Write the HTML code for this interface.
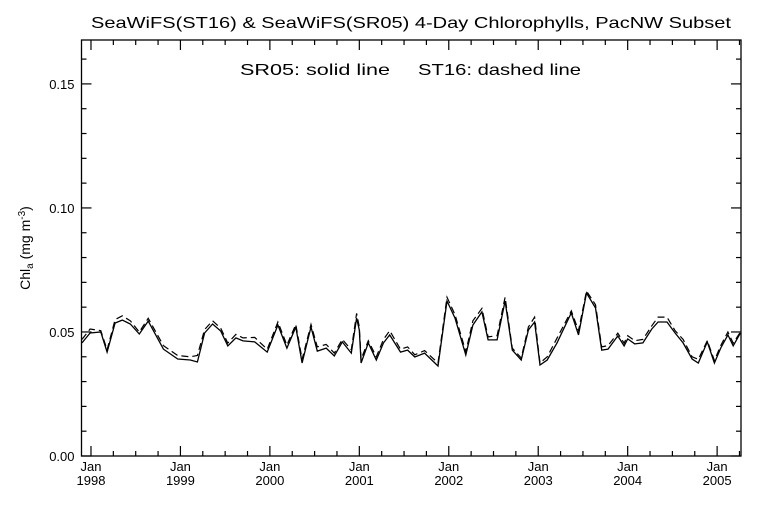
<!DOCTYPE html>
<html><head><meta charset="utf-8"><style>
html,body{margin:0;padding:0;background:#fff;width:768px;height:512px;overflow:hidden}
svg{display:block}
text{font-family:"Liberation Sans","DejaVu Sans",sans-serif;fill:#000}
</style></head><body>
<svg id="chart" width="768" height="512" viewBox="0 0 768 512" xmlns="http://www.w3.org/2000/svg">
<rect width="768" height="512" fill="#fff"/>
<text x="411" y="28" font-size="16" text-anchor="middle" textLength="640" lengthAdjust="spacingAndGlyphs">SeaWiFS(ST16) &amp; SeaWiFS(SR05) 4-Day Chlorophylls, PacNW Subset</text>
<text x="240" y="75" font-size="16" textLength="150" lengthAdjust="spacingAndGlyphs">SR05: solid line</text>
<text x="418" y="75" font-size="16" textLength="163" lengthAdjust="spacingAndGlyphs">ST16: dashed line</text>
<text transform="translate(30,248) rotate(-90)" font-size="14" text-anchor="middle">Chl<tspan font-size="10" dy="3">a</tspan><tspan dy="-3"> (mg m</tspan><tspan font-size="10" dy="-5">-3</tspan><tspan dy="5">)</tspan></text>
<g id="axes"></g>
<g id="series"></g>
</svg>
<script>
const dates=[1997.90,1997.99,1998.11,1998.18,1998.27,1998.35,1998.44,1998.54,1998.64,1998.81,1998.97,1999.11,1999.19,1999.27,1999.36,1999.45,1999.53,1999.62,1999.70,1999.83,1999.97,2000.09,2000.19,2000.29,2000.36,2000.46,2000.53,2000.63,2000.72,2000.81,2000.91,2000.97,2001.00,2001.02,2001.10,2001.19,2001.27,2001.34,2001.46,2001.54,2001.62,2001.73,2001.88,2001.98,2002.07,2002.19,2002.27,2002.37,2002.44,2002.54,2002.63,2002.71,2002.81,2002.89,2002.96,2003.02,2003.10,2003.21,2003.37,2003.45,2003.54,2003.64,2003.71,2003.78,2003.89,2003.96,2004.00,2004.08,2004.17,2004.27,2004.34,2004.44,2004.53,2004.62,2004.72,2004.79,2004.89,2004.97,2005.04,2005.12,2005.18,2005.26];
const sr05=[.0456,.0496,.0500,.0419,.0536,.0548,.0532,.0492,.0544,.0431,.0391,.0387,.0379,.0496,.0532,.0504,.0444,.0476,.0464,.0460,.0419,.0528,.0435,.0520,.0375,.0520,.0423,.0435,.0403,.0460,.0415,.0556,.0508,.0375,.0456,.0387,.0456,.0488,.0419,.0427,.0399,.0415,.0363,.0625,.0556,.0407,.0528,.0581,.0468,.0468,.0625,.0427,.0387,.0508,.0540,.0367,.0387,.0456,.0577,.0488,.0657,.0597,.0427,.0431,.0484,.0444,.0472,.0452,.0456,.0512,.0540,.0540,.0496,.0456,.0391,.0375,.0460,.0375,.0435,.0488,.0444,.0496];
const st16=[.0470,.0512,.0505,.0428,.0550,.0565,.0545,.0500,.0555,.0445,.0405,.0400,.0405,.0510,.0545,.0515,.0455,.0490,.0476,.0478,.0430,.0540,.0447,.0530,.0390,.0530,.0440,.0450,.0415,.0470,.0428,.0575,.0520,.0390,.0465,.0400,.0470,.0505,.0430,.0440,.0408,.0425,.0375,.0640,.0570,.0420,.0545,.0595,.0480,.0485,.0640,.0435,.0395,.0520,.0560,.0375,.0400,.0475,.0585,.0505,.0665,.0610,.0440,.0445,.0495,.0455,.0485,.0465,.0470,.0525,.0560,.0560,.0505,.0470,.0400,.0390,.0465,.0385,.0445,.0500,.0455,.0500];
const yTicks=["0.00","0.05","0.10","0.15"];
const yearLabels=["1998","1999","2000","2001","2002","2003","2004","2005"];

const L=81.5,R=741,T=40,B=456;
const X0=1997.894,X1=2005.267,Y0=0,Y1=0.1677;
function xs(t){return L+(t-X0)/(X1-X0)*(R-L);}
function ys(v){return B-(v-Y0)/(Y1-Y0)*(B-T);}
const NS="http://www.w3.org/2000/svg";
function mk(tag,attrs,parent){const e=document.createElementNS(NS,tag);for(const k in attrs)e.setAttribute(k,attrs[k]);parent.appendChild(e);return e;}
const axes=document.getElementById('axes'),ser=document.getElementById('series');

const frame=mk('rect',{x:L,y:T,width:R-L,height:B-T,fill:'none',stroke:'#000','stroke-width':1.3},axes);



for(let i=0;i<=16;i++){
  const v=i*0.01,y=ys(v);
  const len=(i%5===0)?10:5;
  const t1=mk('line',{x1:L,x2:L+len,y1:y,y2:y,stroke:'#000','stroke-width':1.2},axes);
  
  
  const t2=mk('line',{x1:R,x2:R-len,y1:y,y2:y,stroke:'#000','stroke-width':1.2},axes);
  
  
}
yTicks.forEach(s=>{
  const tx=mk('text',{x:L-7,y:ys(parseFloat(s))+5,'font-size':13,'text-anchor':'end'},axes);
  tx.textContent=s;
  
  
});
for(let q=0;q<=30;q++){
  const tt=1997.75+q*0.25;
  if(tt<X0||tt>X1)continue;
  const x=xs(tt);
  const major=Math.abs(tt-Math.round(tt))<1e-6;
  const len=major?10:5;
  const a=mk('line',{x1:x,x2:x,y1:B,y2:B-len,stroke:'#000','stroke-width':1.2},axes);
  
  
  const b=mk('line',{x1:x,x2:x,y1:T,y2:T+len,stroke:'#000','stroke-width':1.2},axes);
  
  
}
yearLabels.forEach(yr=>{
  const x=xs(parseFloat(yr));
  const a=mk('text',{x:x,y:B+15,'font-size':13,'text-anchor':'middle'},axes);
  a.textContent='Jan';
  
  
  const b=mk('text',{x:x,y:B+29,'font-size':13,'text-anchor':'middle'},axes);
  b.textContent=yr;
  
  
});
function pts(vals){return dates.map((d,i)=>xs(d).toFixed(1)+','+ys(vals[i]).toFixed(1)).join(' ');}
const dl=mk('polyline',{points:pts(st16),fill:'none',stroke:'#000','stroke-width':1.2,'stroke-dasharray':'7,4'},ser);


const sl=mk('polyline',{points:pts(sr05),fill:'none',stroke:'#000','stroke-width':1.3},ser);


</script>
</body></html>
